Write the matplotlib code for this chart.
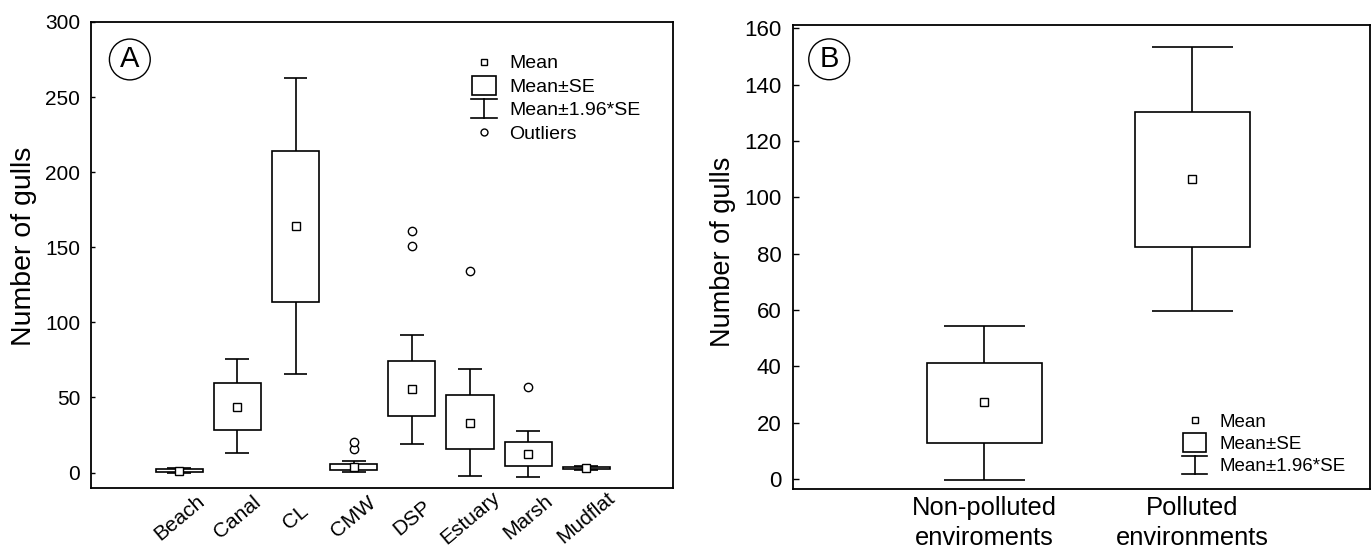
import matplotlib
matplotlib.use("Agg")
import matplotlib.pyplot as plt
from matplotlib.legend_handler import HandlerBase
from matplotlib.lines import Line2D
from matplotlib.patches import Rectangle
import numpy as np

plt.rcParams['font.family'] = ['Liberation Sans', 'DejaVu Sans']

# ---------------- Data: panel A ----------------
habitats = ["Beach", "Canal", "CL", "CMW", "DSP", "Estuary", "Marsh", "Mudflat"]
mean_a = [1.2, 43.8, 164.3, 3.8, 55.5, 33.1, 12.3, 3.0]
se_lo_a = [0.2, 28.3, 113.7, 1.9, 37.3, 15.4, 4.4, 2.2]
se_hi_a = [2.2, 59.6, 214.4, 5.8, 74.4, 51.3, 20.3, 3.8]
ci_lo_a = [-0.5, 12.8, 65.3, 0.5, 19.3, -2.1, -2.8, 1.6]
ci_hi_a = [3.0, 75.3, 262.4, 7.5, 91.8, 68.8, 27.5, 4.5]
outlier_cat = ["CMW", "CMW", "DSP", "DSP", "Estuary", "Marsh"]
outlier_val = [15.5, 20.5, 150.8, 160.6, 134.5, 57.0]
yticks_a = [0, 50, 100, 150, 200, 250, 300]

# ---------------- Data: panel B ----------------
groups = ["Non-polluted\nenviroments", "Polluted\nenvironments"]
mean_b = [27.3, 106.6]
se_lo_b = [12.9, 82.5]
se_hi_b = [41.0, 130.2]
ci_lo_b = [-0.5, 59.6]
ci_hi_b = [54.4, 153.5]
yticks_b = [0, 20, 40, 60, 80, 100, 120, 140, 160]

LW = 1.2


class IBeam:
    pass


class SEBox:
    pass


class IBeamHandler(HandlerBase):
    def create_artists(self, legend, orig_handle, xdescent, ydescent,
                       width, height, fontsize, trans):
        cx = width / 2 - xdescent
        y0 = -ydescent - height * 0.2
        y1 = height * 1.2 - ydescent
        w = width * 0.45
        arts = [
            Line2D([cx, cx], [y0, y1], color='black', lw=LW),
            Line2D([cx - w, cx + w], [y0, y0], color='black', lw=LW),
            Line2D([cx - w, cx + w], [y1, y1], color='black', lw=LW),
        ]
        for a in arts:
            a.set_transform(trans)
        return arts


class BoxHandler(HandlerBase):
    def create_artists(self, legend, orig_handle, xdescent, ydescent,
                       width, height, fontsize, trans):
        cx = width / 2 - xdescent
        w = width * 0.42
        r = Rectangle((cx - w, -ydescent - height * 0.2), 2 * w, height * 1.4,
                      fill=False, ec='black', lw=LW, transform=trans)
        return [r]


def draw_panel(ax, pos, mean, se_lo, se_hi, ci_lo, ci_hi, box_w, cap_w):
    pos = np.asarray(pos, dtype=float)
    se_lo = np.asarray(se_lo); se_hi = np.asarray(se_hi)
    ax.bar(pos, se_hi - se_lo, bottom=se_lo, width=box_w, fill=False,
           edgecolor='black', linewidth=LW, zorder=3)
    ax.vlines(pos, se_hi, ci_hi, color='black', lw=LW, zorder=2)
    ax.vlines(pos, ci_lo, se_lo, color='black', lw=LW, zorder=2)
    ax.hlines(ci_hi, pos - cap_w / 2, pos + cap_w / 2, color='black', lw=LW, zorder=2)
    ax.hlines(ci_lo, pos - cap_w / 2, pos + cap_w / 2, color='black', lw=LW, zorder=2)
    ax.plot(pos, mean, ls='none', marker='s', ms=5.2, mfc='white', mec='black',
            mew=1.0, zorder=4)


fig = plt.figure(figsize=(13.71, 5.49), dpi=100)

# ---------------- Panel A ----------------
axA = fig.add_axes([0.0667, 0.1106, 0.4241, 0.8499])
xa = np.arange(len(habitats))
draw_panel(axA, xa, mean_a, se_lo_a, se_hi_a, ci_lo_a, ci_hi_a, 0.81, 0.41)
ox = [habitats.index(c) for c in outlier_cat]
axA.plot(ox, outlier_val, ls='none', marker='o', ms=6, mfc='white', mec='black',
         mew=1.0, zorder=4)
axA.set_xlim(-1.51, 8.49)
axA.set_ylim(-10.5, 300.2)
axA.set_yticks(yticks_a)
axA.set_yticklabels([str(v) for v in yticks_a], fontsize=15)
axA.set_xticks(xa)
axA.set_xticklabels(habitats, rotation=40, ha='center', va='center', fontsize=15)
axA.tick_params(axis='y', direction='in', length=3, width=1, pad=8)
axA.tick_params(axis='x', length=0, pad=21)
axA.set_ylabel("Number of gulls", fontsize=20.5)
axA.yaxis.set_label_coords(-0.0937, 0.518)
for s in axA.spines.values():
    s.set_linewidth(1.3)
axA.text(0.066, 0.919, "A", transform=axA.transAxes, fontsize=21,
         ha='center', va='center',
         bbox=dict(boxstyle='circle,pad=0.22', fc='white', ec='black', lw=1.0))

legA_handles = [
    Line2D([], [], ls='none', marker='s', ms=5, mfc='white', mec='black', mew=1.0),
    SEBox(),
    IBeam(),
    Line2D([], [], ls='none', marker='o', ms=5, mfc='white', mec='black', mew=1.0),
]
axA.legend(legA_handles, ["Mean", "Mean±SE", "Mean±1.96*SE", "Outliers"],
           handler_map={IBeam: IBeamHandler(), SEBox: BoxHandler()},
           loc='upper left', bbox_to_anchor=(0.650, 0.929), frameon=False,
           fontsize=14, handlelength=1.5, handletextpad=0.55,
           labelspacing=0.3, borderpad=0, borderaxespad=0)

# ---------------- Panel B ----------------
axB = fig.add_axes([0.5783, 0.1093, 0.4207, 0.8443])
xb = np.arange(len(groups))
draw_panel(axB, xb, mean_b, se_lo_b, se_hi_b, ci_lo_b, ci_hi_b, 0.555, 0.39)
axB.set_xlim(-0.92, 1.852)
axB.set_ylim(-3.6, 161)
axB.set_yticks(yticks_b)
axB.set_yticklabels([str(v) for v in yticks_b], fontsize=16)
axB.set_xticks(xb)
axB.set_xticklabels(groups, fontsize=18.4, linespacing=1.3)
axB.tick_params(axis='y', direction='in', length=4, width=1, pad=8)
axB.tick_params(axis='x', length=0, pad=5)
axB.set_ylabel("Number of gulls", fontsize=19.5)
axB.yaxis.set_label_coords(-0.0987, 0.511)
for s in axB.spines.values():
    s.set_linewidth(1.3)
axB.text(0.063, 0.927, "B", transform=axB.transAxes, fontsize=21,
         ha='center', va='center',
         bbox=dict(boxstyle='circle,pad=0.22', fc='white', ec='black', lw=1.0))

legB_handles = [
    Line2D([], [], ls='none', marker='s', ms=5, mfc='white', mec='black', mew=1.0),
    SEBox(),
    IBeam(),
]
axB.legend(legB_handles, ["Mean", "Mean±SE", "Mean±1.96*SE"],
           handler_map={IBeam: IBeamHandler(), SEBox: BoxHandler()},
           loc='upper left', bbox_to_anchor=(0.673, 0.162), frameon=False,
           fontsize=13.5, handlelength=1.46, handletextpad=0.6,
           labelspacing=0.27, borderpad=0, borderaxespad=0)

fig.savefig("out.png", dpi=100)
